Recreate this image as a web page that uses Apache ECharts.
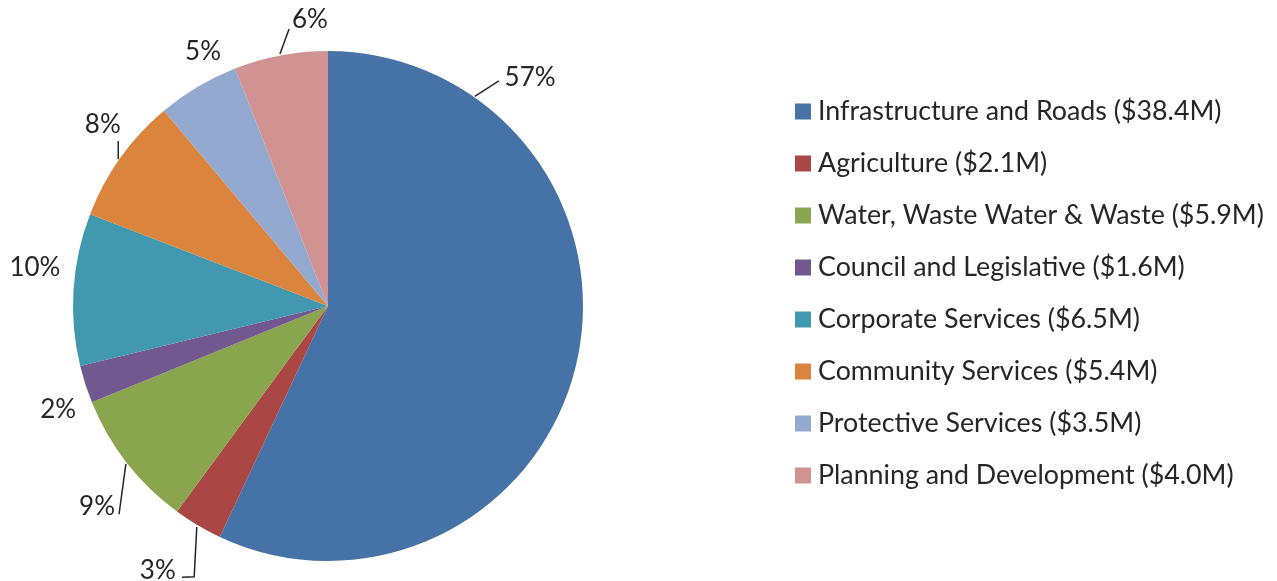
<!DOCTYPE html>
<html>
<head>
<meta charset="utf-8">
<script src="https://cdn.jsdelivr.net/npm/echarts@6/dist/echarts.min.js"></script>
<style>html,body{margin:0;padding:0;background:#fff;}#c{width:1277px;height:581px;}</style>
</head>
<body>
<div id="c"></div>
<script>
const categories = ["Infrastructure and Roads ($38.4M)","Agriculture ($2.1M)","Water, Waste Water & Waste ($5.9M)","Council and Legislative ($1.6M)","Corporate Services ($6.5M)","Community Services ($5.4M)","Protective Services ($3.5M)","Planning and Development ($4.0M)"];
const values = [38.4, 2.1, 5.9, 1.6, 6.5, 5.4, 3.5, 4.0];
const colors = ["#4572A7","#AA4643","#89A54E","#71588F","#4198AF","#DB843D","#93A9CF","#D19392"];

// label placement (polar: angle in degrees CCW from +x, radius in px from pie centre)
const CX = 328, CY = 306, R = 255;
const labelPolar = [[48.5,305],[237.3,315],[221,306],[201,289],[172.6,295.5],[141.2,289],[116.2,283],[93.6,286.6]];
const leaderPolar = [
  [[55,256],[52.8,282.6]],
  [[239.3,257],[243.7,302],[241.7,308]],
  [[218,256.5],[224.9,295]],
  null,
  null,
  [[145,256],[141.8,267]],
  null,
  [[100.8,256.5],[98,279.7]]
];
function polar(a, r) {
  const t = a * Math.PI / 180;
  return [CX + r * Math.cos(t), CY - r * Math.sin(t)];
}

const chart = echarts.init(document.getElementById('c'));
const FONT = 'Lato';
chart.setOption({
  animation: false,
  color: colors,
  legend: {
    orient: 'vertical',
    left: 790,
    top: 93,
    itemWidth: 16,
    itemHeight: 16,
    itemGap: 25,
    icon: 'rect',
    textStyle: {fontFamily: FONT, fontSize: 26.8, color: '#262626', lineHeight: 22, padding: [0,0,0,2]},
    data: categories
  },
  series: [{
    type: 'pie',
    center: [CX, CY],
    radius: R,
    startAngle: 90,
    clockwise: true,
    data: categories.map((n, i) => ({name: n, value: values[i], labelLine: {show: !!leaderPolar[i]}})),
    label: {
      show: true,
      position: 'outside',
      overflow: 'none',
      formatter: p => Math.round(p.percent) + '%',
      fontFamily: FONT,
      fontSize: 26,
      color: '#262626'
    },
    labelLine: {show: true, lineStyle: {color: '#262626', width: 1.5}},
    labelLayout: function (params) {
      const i = params.dataIndex;
      const p = polar(labelPolar[i][0], labelPolar[i][1]);
      const out = {x: p[0], y: p[1], align: 'center', verticalAlign: 'middle'};
      if (leaderPolar[i]) out.labelLinePoints = leaderPolar[i].map(q => polar(q[0], q[1]));
      return out;
    },
    itemStyle: {borderColor: '#fff', borderWidth: 0}
  }]
});
</script>
</body>
</html>
